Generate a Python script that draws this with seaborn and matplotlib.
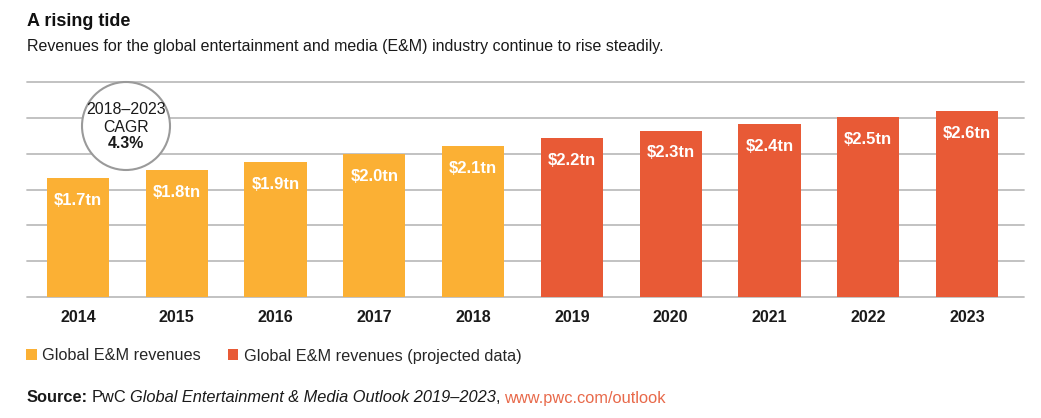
import matplotlib
matplotlib.use('Agg')
import matplotlib.pyplot as plt
import seaborn as sns
import pandas as pd
from matplotlib.patches import Circle, Patch

# ---- data ----
years = ['2014', '2015', '2016', '2017', '2018', '2019', '2020', '2021', '2022', '2023']
revenues = [1.66, 1.77, 1.88, 1.99, 2.11, 2.22, 2.32, 2.41, 2.51, 2.59]
value_labels = ['$1.7tn', '$1.8tn', '$1.9tn', '$2.0tn', '$2.1tn',
                '$2.2tn', '$2.3tn', '$2.4tn', '$2.5tn', '$2.6tn']
series_names = ['Global E&M revenues', 'Global E&M revenues (projected data)']
series = [series_names[0]] * 5 + [series_names[1]] * 5
colors = ['#FBB034', '#E85A36']

title = 'A rising tide'
subtitle = 'Revenues for the global entertainment and media (E&M) industry continue to rise steadily.'
cagr_lines = ['2018\u20132023', 'CAGR', '4.3%']

df = pd.DataFrame({'year': years, 'revenue': revenues, 'series': series})

sns.set_style('white')
plt.rcParams['font.family'] = ['Liberation Sans', 'DejaVu Sans']

W, H = 1041, 418
fig = plt.figure(figsize=(W / 100, H / 100), dpi=100)
ax = fig.add_axes([27 / W, (H - 297) / H, (1024 - 27) / W, (297 - 82) / H])

sns.barplot(data=df, x='year', y='revenue', hue='series', hue_order=series_names,
            palette=colors, width=0.63, dodge=False, legend=False, ax=ax,
            saturation=1, linewidth=0)

ax.set_ylim(0, 3.0)
ax.set_xlim(-0.516, 9.577)
ax.set_yticks([0, 0.5, 1.0, 1.5, 2.0, 2.5, 3.0])
ax.set_yticklabels([])
ax.yaxis.grid(True, color='#BDBDBD', linewidth=1.3)
ax.set_axisbelow(True)
for s in ax.spines.values():
    s.set_visible(False)
ax.set_xlabel('')
ax.set_ylabel('')
ax.tick_params(axis='both', length=0)
ax.tick_params(axis='x', pad=9.5)
for t in ax.get_xticklabels():
    t.set_fontweight('bold')
    t.set_fontsize(11.5)
    t.set_color('#1a1a1a')
for gl in ax.get_ygridlines():
    gl.set_clip_on(False)

for i, (v, lab) in enumerate(zip(revenues, value_labels)):
    ax.text(i, v - 0.31, lab.replace('$', '\\$'), ha='center', va='center',
            color='white', fontweight='bold', fontsize=12)

# CAGR circle
circ = Circle((126 / 100, (H - 126) / 100), 0.44, transform=fig.dpi_scale_trans,
              facecolor='white', edgecolor='#9A9A9A', linewidth=1.5, zorder=5)
fig.add_artist(circ)
for txt, yy, fw in zip(cagr_lines, [109, 127, 144], ['normal', 'normal', 'bold']):
    fig.text(126 / W, 1 - yy / H, txt, ha='center', va='center', fontsize=11.4,
             fontweight=fw, color='#1a1a1a', zorder=6)

# titles
fig.text(27 / W, 1 - 22 / H, title, ha='left', va='center', fontsize=13,
         fontweight='bold', color='#111111')
fig.text(27 / W, 1 - 47 / H, subtitle, ha='left', va='center', fontsize=11.5,
         color='#1a1a1a')

# legend
handles = [Patch(facecolor=c, edgecolor='none', label=n) for c, n in zip(colors, series_names)]
fig.legend(handles=handles, loc='center left', bbox_to_anchor=(26 / W, 1 - 356 / H),
           frameon=False, ncol=2, handlelength=0.65, handleheight=0.65,
           handletextpad=0.35, columnspacing=1.65, borderaxespad=0, borderpad=0,
           fontsize=11.7)

# source line
fig.canvas.draw()
renderer = fig.canvas.get_renderer()
parts = [('Source:', 'bold', 'normal', '#1a1a1a'),
         (' PwC ', 'normal', 'normal', '#1a1a1a'),
         ('Global Entertainment & Media Outlook 2019\u20132023', 'normal', 'italic', '#1a1a1a'),
         (', ', 'normal', 'normal', '#1a1a1a'),
         ('www.pwc.com/outlook', 'normal', 'normal', '#E8694A')]
x = 27
space = 3.5
for txt, fw, st, col in parts:
    lead = txt.startswith(' ')
    trail = txt.endswith(' ')
    core = txt.strip()
    if lead:
        x += space
    t = fig.text(x / W, 1 - 398 / H, core, ha='left', va='center', fontsize=11.8,
                 fontweight=fw, fontstyle=st, color=col)
    bb = t.get_window_extent(renderer)
    x = bb.x1
    if trail:
        x += space

fig.savefig('out.png', dpi=100)
